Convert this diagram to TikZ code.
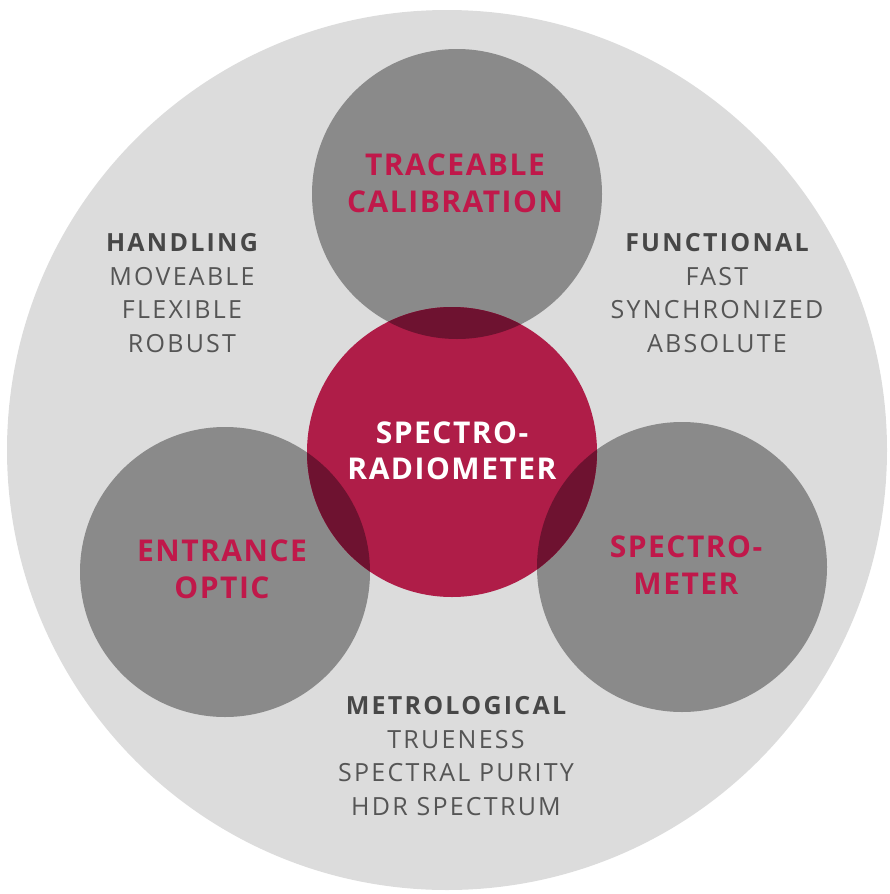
\documentclass[tikz,border=0pt]{standalone}
\usepackage{fontspec}
\setmainfont{Open Sans}
\newfontfamily\labelfont[LetterSpace=5]{Open Sans}
\newfontfamily\itemfont[LetterSpace=9]{Open Sans}
\definecolor{bigbg}{HTML}{DCDCDC}
\definecolor{greyc}{HTML}{8A8A8A}
\definecolor{redc}{HTML}{AF1D48}
\definecolor{overlapc}{HTML}{6E1230}
\definecolor{redtext}{HTML}{C0184A}
\definecolor{darktext}{HTML}{474747}
\definecolor{itemtext}{HTML}{555555}
\tikzset{
  x=1pt, y=-1pt,
  bigcirc/.style={circle, fill=bigbg, minimum size=880pt, inner sep=0pt},
  greycirc/.style={circle, fill=greyc, minimum size=290pt, inner sep=0pt},
  redcirc/.style={circle, fill=redc, minimum size=290pt, inner sep=0pt},
  redlabel/.style={text=redtext, font=\labelfont\fontsize{30}{37}\selectfont\bfseries, align=center},
  whitelabel/.style={text=white, font=\labelfont\fontsize{30}{36}\selectfont\bfseries, align=center},
  featblock/.style={text=itemtext, font=\itemfont\fontsize{25}{33.5}\selectfont, align=center}
}
\begin{document}
\begin{tikzpicture}
\useasboundingbox (0,0) rectangle (889,894);
\node[bigcirc] (outer) at (447,450) {};
\node[greycirc] (top) at (457,194) {};
\node[greycirc] (left) at (225,572) {};
\node[greycirc] (right) at (682,567) {};
\node[redcirc] (center) at (452,452) {};
\begin{scope}
  \clip (center.center) circle (145pt);
  \fill[overlapc] (top.center) circle (145pt);
  \fill[overlapc] (left.center) circle (145pt);
  \fill[overlapc] (right.center) circle (145pt);
\end{scope}
\node[redlabel] (ttop) at (455,183) {TRACEABLE\\CALIBRATION};
\node[whitelabel] (tcenter) at (452,451) {SPECTRO-\\RADIOMETER};
\node[redlabel] (tleft) at (222,569) {ENTRANCE\\OPTIC};
\node[redlabel] (tright) at (686,565) {SPECTRO-\\METER};
\node[featblock] (handling) at (182,293) {{\bfseries\color{darktext}HANDLING}\\MOVEABLE\\FLEXIBLE\\ROBUST};
\node[featblock] (functional) at (717,293) {{\bfseries\color{darktext}FUNCTIONAL}\\FAST\\SYNCHRONIZED\\ABSOLUTE};
\node[featblock] (metro) at (456,756) {{\bfseries\color{darktext}METROLOGICAL}\\TRUENESS\\SPECTRAL PURITY\\HDR SPECTRUM};
\end{tikzpicture}
\end{document}
